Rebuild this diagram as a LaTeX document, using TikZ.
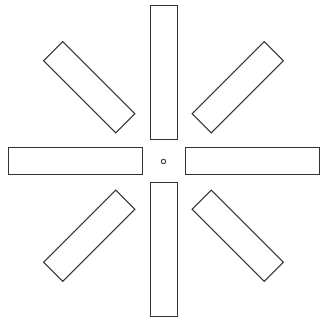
\documentclass[tikz,border=0pt]{standalone}
\usetikzlibrary{calc}
\begin{document}
\begin{tikzpicture}[x=1pt,y=1pt,
  bar/.style={draw=black!80, line width=1pt, rectangle, inner sep=0pt, minimum height=27pt},
  longbar/.style={bar, minimum width=134pt},
  diagbar/.style={bar, minimum width=102pt},
  hub/.style={draw=black!75, line width=0.9pt, circle, inner sep=0pt, minimum size=4.5pt}]
\useasboundingbox (0,0) rectangle (322,322);
\coordinate (c) at (163.5,160.5);
\node[hub] (h) at (c) {};
\node[longbar, rotate=90] (n) at ($(c)+(90:89)$) {};
\node[longbar, rotate=90] (s) at ($(c)+(270:88.5)$) {};
\node[longbar] (w) at ($(c)+(180:88.5)$) {};
\node[longbar] (e) at ($(c)+(0:89)$) {};
\node[diagbar, rotate=45] (ne) at ($(c)+(45:105)$) {};
\node[diagbar, rotate=135] (nw) at ($(c)+(135:105)$) {};
\node[diagbar, rotate=225] (sw) at ($(c)+(225:105)$) {};
\node[diagbar, rotate=315] (se) at ($(c)+(315:105)$) {};
\end{tikzpicture}
\end{document}
